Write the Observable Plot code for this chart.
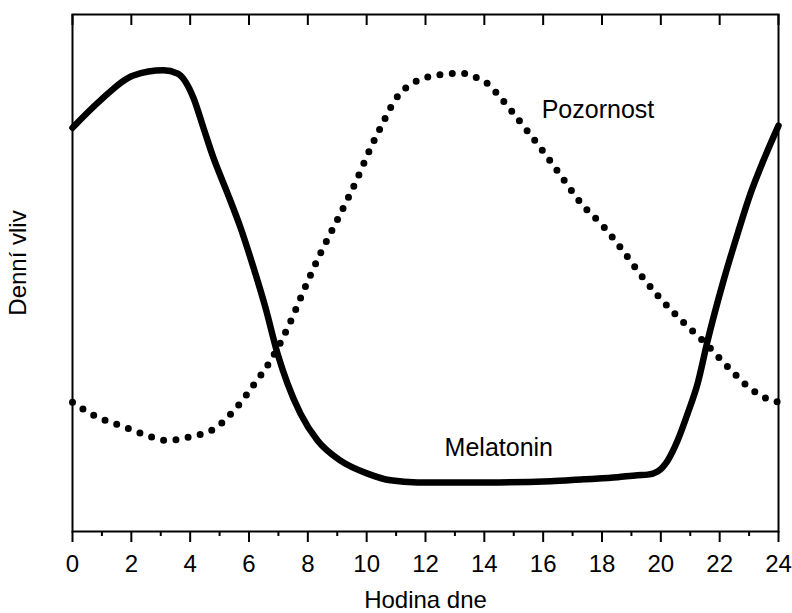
<!DOCTYPE html>
<html><head><meta charset="utf-8">
<script src="https://cdn.jsdelivr.net/npm/d3@7"></script>
<script src="https://cdn.jsdelivr.net/npm/@observablehq/plot@0.6"></script>
<style>
body{margin:0;background:#fff}
#chart svg{font-family:"Liberation Sans",Arial,sans-serif}
</style>
</head><body><div id="chart"></div>
<script>
// Melatonin (solid line): hour of day, relative daily influence
const melatoninHour  = [0, 0.95, 2.07, 3.09, 3.57, 4.11, 4.45, 4.79, 5.27, 5.71, 6.15, 6.56, 6.97, 7.31, 7.75, 8.33, 9.11, 10.03, 10.81, 11.73, 12.85, 14.5, 16.25, 17.37, 18.53, 19.2, 19.55, 19.89, 20.23, 20.57, 20.91, 21.25, 21.59, 22.13, 22.61, 23.05, 23.49, 24];
const melatoninValue = [78.1, 83.4, 88.2, 89.2, 88.6, 83.9, 78.1, 72.3, 65.4, 58.8, 51.1, 43.3, 34.4, 28.6, 22.8, 17.6, 13.7, 11.2, 9.9, 9.5, 9.5, 9.5, 9.7, 10.1, 10.5, 10.9, 11.0, 11.6, 13.7, 17.6, 22.8, 28.6, 36.9, 48.5, 57.6, 65.4, 71.8, 78.5];

// Pozornost (dotted line)
const pozornostHour  = [0, 0.82, 1.63, 2.41, 3.23, 4.05, 4.83, 5.61, 6.19, 6.76, 7.38, 7.89, 8.43, 9.04, 9.62, 10.16, 10.54, 10.98, 11.35, 11.73, 12.14, 12.54, 12.95, 13.36, 13.73, 14.14, 14.52, 14.86, 15.50, 16.11, 16.69, 17.30, 18.05, 18.70, 19.31, 19.95, 20.74, 21.52, 22.30, 23.08, 23.46, 24];
const pozornostValue = [25.0, 22.2, 20.5, 18.8, 17.6, 18.4, 19.9, 24.2, 28.6, 33.3, 40.2, 47.0, 53.8, 60.7, 67.5, 74.5, 78.9, 83.6, 85.9, 87.2, 88.0, 88.4, 88.6, 88.6, 87.8, 86.5, 84.1, 81.8, 77.2, 72.7, 68.1, 63.4, 59.0, 54.4, 49.7, 45.3, 40.6, 36.4, 31.7, 27.5, 26.1, 25.0];

const majorTicks = [0, 2, 4, 6, 8, 10, 12, 14, 16, 18, 20, 22, 24];
const minorTicks = [1, 3, 5, 7, 9, 11, 13, 15, 17, 19, 21, 23];

const seriesNames  = ["Pozornost", "Melatonin"];
const seriesLabelX = [15.95, 12.65];
const seriesLabelY = [81.6, 16.1];

const xTitle = "Hodina dne";
const yTitle = "Denní vliv";

const melatonin = melatoninHour.map((h, i) => ({h, v: melatoninValue[i]}));
const pozornost = pozornostHour.map((h, i) => ({h, v: pozornostValue[i]}));
const labels = seriesNames.map((name, i) => ({name, h: seriesLabelX[i], v: seriesLabelY[i]}));

const W = 792, H = 613, mT = 14, mB = 82;

const chart = Plot.plot({
  width: W,
  height: H,
  marginLeft: 72,
  marginRight: 14,
  marginTop: mT,
  marginBottom: mB,
  style: {fontFamily: '"Liberation Sans", Arial, sans-serif', fontSize: "24px", color: "black", background: "white", overflow: "visible"},
  x: {domain: [0, 24]},
  y: {domain: [0, 100], axis: null},
  marks: [
    Plot.line(pozornost, {x: "h", y: "v", curve: "monotone-x", stroke: "black", strokeWidth: 7, strokeDasharray: "0,12.4", strokeLinecap: "round"}),
    Plot.line(melatonin, {x: "h", y: "v", curve: "monotone-x", stroke: "black", strokeWidth: 6.5, strokeLinejoin: "round"}),
    Plot.text(labels, {x: "h", y: "v", text: "name", textAnchor: "start", fontSize: 25, fill: "black"}),
    Plot.frame({stroke: "black", strokeWidth: 2}),
    // inward major ticks along the top edge
    Plot.ruleX(majorTicks, {x: d => d, stroke: "black", strokeWidth: 2, insetBottom: (H - mT - mB) - 11}),
    Plot.axisX({anchor: "bottom", ticks: majorTicks, tickSize: 11, tickPadding: 12, strokeWidth: 2, fontSize: 24, tickFormat: d => String(d), label: xTitle, labelAnchor: "center", labelArrow: "none", labelOffset: 76}),
    Plot.axisX({anchor: "bottom", ticks: minorTicks, tickSize: 5, strokeWidth: 2, tickFormat: () => "", label: null}),
    Plot.text([yTitle], {frameAnchor: "left", rotate: -90, textAnchor: "middle", dx: -54, dy: -10, fontSize: 24, fill: "black"})
  ]
});
document.getElementById("chart").append(chart);
</script>
</body></html>
